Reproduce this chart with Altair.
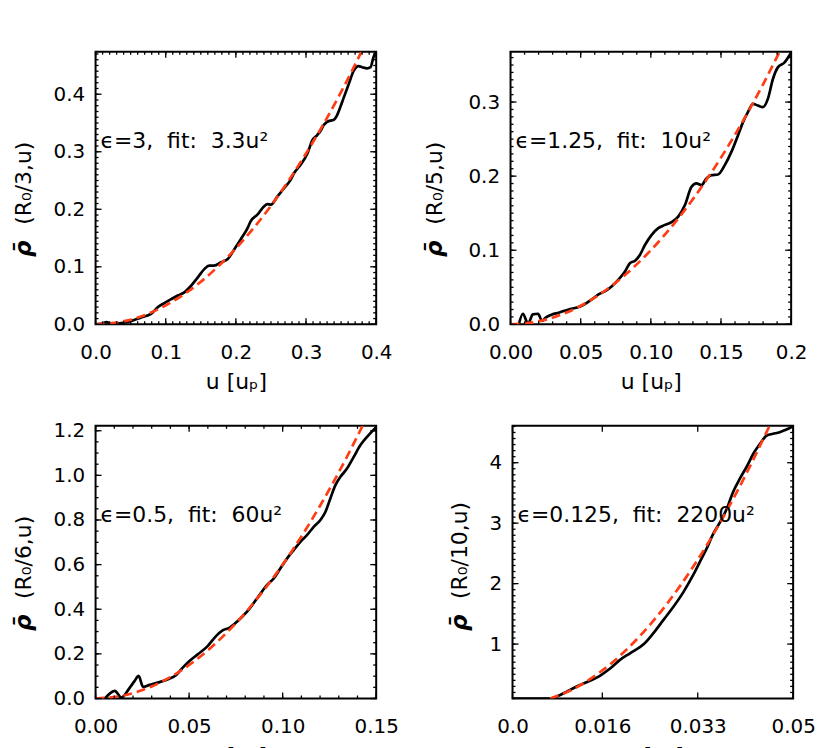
import altair as alt
import pandas as pd
import numpy as np

FONT = "DejaVu Sans"
W, H = 282, 274
RED = "#ff3c14"

# ---------------- data ----------------
# Panel 1: eps=3
u1 = [0, 0.0085, 0.0156, 0.0227, 0.046, 0.065, 0.079, 0.089, 0.098, 0.108,
      0.117, 0.127, 0.136, 0.146, 0.155, 0.162, 0.169, 0.179, 0.188, 0.198,
      0.207, 0.217, 0.221, 0.231, 0.240, 0.245, 0.250, 0.259, 0.269, 0.278,
      0.283, 0.292, 0.302, 0.309, 0.316, 0.321, 0.325, 0.330, 0.340, 0.344,
      0.349, 0.354, 0.361, 0.368, 0.375, 0.380, 0.387, 0.392, 0.396, 0.400]
r1 = [0, 0.001, 0.004, 0.001, 0.004, 0.012, 0.018, 0.030, 0.037, 0.044,
      0.050, 0.056, 0.067, 0.082, 0.096, 0.102, 0.102, 0.108, 0.113, 0.131,
      0.148, 0.168, 0.179, 0.191, 0.205, 0.209, 0.208, 0.222, 0.237, 0.251,
      0.263, 0.277, 0.297, 0.320, 0.329, 0.337, 0.346, 0.352, 0.356, 0.363,
      0.378, 0.395, 0.418, 0.441, 0.449, 0.447, 0.445, 0.447, 0.464, 0.474]
fit_u1 = [0, 0.05, 0.1, 0.15, 0.2, 0.25, 0.3, 0.35, 0.379]
fit_r1 = [0, 0.008, 0.033, 0.074, 0.132, 0.206, 0.297, 0.404, 0.474]

# Panel 2: eps=1.25
u2 = [0.0059, 0.0088, 0.0125, 0.0159, 0.0196, 0.0225, 0.0249, 0.0296, 0.0343, 0.0414,
      0.0485, 0.0533, 0.058, 0.0627, 0.0675, 0.0722, 0.0769, 0.0817, 0.0852, 0.0888,
      0.0923, 0.0959, 0.1006, 0.1053, 0.1101, 0.1148, 0.1195, 0.1243, 0.129, 0.1325,
      0.1361, 0.1396, 0.1432, 0.1479, 0.1527, 0.1574, 0.1621, 0.1657, 0.1692, 0.1728,
      0.1763, 0.1799, 0.1834, 0.187, 0.1905, 0.1953, 0.2]
r2 = [0, 0.0143, 0.0009, 0.0134, 0.0143, 0.0045, 0.0089, 0.0134, 0.0157, 0.0201,
      0.0233, 0.0277, 0.0336, 0.0403, 0.0447, 0.0515, 0.0604, 0.0716, 0.0828, 0.0859,
      0.094, 0.1074, 0.1208, 0.1298, 0.1342, 0.1378, 0.1454, 0.1611, 0.1857, 0.1902,
      0.1879, 0.1969, 0.2013, 0.2022, 0.2148, 0.2327, 0.255, 0.2729, 0.2864, 0.2975,
      0.2953, 0.2931, 0.3043, 0.3311, 0.3468, 0.3535, 0.3669]
fit_u2 = [0, 0.02, 0.04, 0.06, 0.08, 0.10, 0.12, 0.14, 0.16, 0.18, 0.1918]
fit_r2 = [0, 0.004, 0.016, 0.036, 0.064, 0.100, 0.144, 0.196, 0.256, 0.324, 0.368]

# Panel 3: eps=0.5
u3 = [0.005, 0.0103, 0.0138, 0.0183, 0.0209, 0.023, 0.0254, 0.0289, 0.0333, 0.0387,
      0.0431, 0.0466, 0.0502, 0.0546, 0.0599, 0.0644, 0.0679, 0.0715, 0.0759, 0.0812,
      0.0865, 0.0918, 0.0954, 0.0989, 0.1025, 0.106, 0.1096, 0.1131, 0.1167, 0.1202,
      0.1229, 0.1255, 0.1282, 0.1309, 0.1344, 0.138, 0.1415, 0.145, 0.15]
r3 = [0, 0.034, 0.0045, 0.049, 0.0788, 0.1011, 0.052, 0.061, 0.0714, 0.0862,
      0.1056, 0.1383, 0.168, 0.1978, 0.2349, 0.2796, 0.3048, 0.3167, 0.3465, 0.3911,
      0.4506, 0.51, 0.5398, 0.5844, 0.629, 0.6662, 0.7033, 0.7331, 0.7703, 0.80,
      0.8372, 0.8967, 0.9561, 0.9933, 1.0305, 1.0825, 1.1346, 1.1717, 1.2164]
fit_u3 = [0, 0.015, 0.03, 0.045, 0.06, 0.075, 0.09, 0.105, 0.12, 0.135, 0.1427]
fit_r3 = [0, 0.0135, 0.054, 0.1215, 0.216, 0.3375, 0.486, 0.6615, 0.864, 1.0935, 1.222]

# Panel 4: eps=0.125
u4 = [0, 0.0068, 0.008, 0.0098, 0.0115, 0.0133, 0.0157, 0.0175, 0.0192, 0.021,
      0.0234, 0.0251, 0.0269, 0.0287, 0.0305, 0.0322, 0.0334, 0.0346, 0.0358, 0.037,
      0.0382, 0.0393, 0.0405, 0.0417, 0.0429, 0.0441, 0.0453, 0.0464, 0.0476, 0.0488, 0.05]
r4 = [0.1, 0.1, 0.137, 0.22, 0.302, 0.374, 0.484, 0.604, 0.742, 0.852,
      1.0, 1.181, 1.401, 1.621, 1.868, 2.143, 2.363, 2.582, 2.83, 3.022,
      3.242, 3.516, 3.736, 3.929, 4.148, 4.313, 4.451, 4.478, 4.505, 4.549, 4.604]
fit_u4 = [0.0067, 0.01, 0.015, 0.02, 0.025, 0.03, 0.035, 0.04, 0.045, 0.0458]
fit_r4 = [0.1, 0.22, 0.495, 0.88, 1.375, 1.98, 2.695, 3.52, 4.455, 4.61]

# axes: domains, tick values, tick labels
x_dom = [[0, 0.4], [0, 0.2], [0, 0.15], [0, 0.05]]
y_dom = [[0, 0.474], [0, 0.368], [0, 1.222], [0.1, 4.61]]
x_ticks = [[0, 0.1, 0.2, 0.3, 0.4], [0, 0.05, 0.1, 0.15, 0.2],
           [0, 0.05, 0.1, 0.15], [0, 0.016, 0.033, 0.05]]
x_labels = [["0.0", "0.1", "0.2", "0.3", "0.4"], ["0.00", "0.05", "0.10", "0.15", "0.2"],
            ["0.00", "0.05", "0.10", "0.15"], ["0.0", "0.016", "0.033", "0.05"]]
x_minor = [0.01, 0.01, 0.01, None]
y_ticks = [[0, 0.1, 0.2, 0.3, 0.4], [0, 0.1, 0.2, 0.3],
           [0, 0.2, 0.4, 0.6, 0.8, 1.0, 1.2], [1, 2, 3, 4]]
y_labels = [["0.0", "0.1", "0.2", "0.3", "0.4"], ["0.0", "0.1", "0.2", "0.3"],
            ["0.0", "0.2", "0.4", "0.6", "0.8", "1.0", "1.2"], ["1", "2", "3", "4"]]
y_minor = [0.01, 0.01, 0.05, 0.1]
y_title = ["(R₀/3,u)", "(R₀/5,u)", "(R₀/6,u)", "(R₀/10,u)"]
notes = ["ϵ=3, \u00a0fit: \u00a03.3u²", "ϵ=1.25, \u00a0fit: \u00a010u²",
         "ϵ=0.5, \u00a0fit: \u00a060u²", "ϵ=0.125, \u00a0fit: \u00a02200u²"]
title_dx = [-72, -76, -72, -53]
x_title = "u [uₚ]"

MAJ, MIN = 6, 3


def lab_expr(vals, labs):
    s = "".join(f"abs(datum.value - {v}) < 0.000001 ? '{l}' : " for v, l in zip(vals, labs))
    return s + "''"


def minor_vals(dom, step):
    if step is None:
        return []
    n0 = int(np.ceil(dom[0] / step - 1e-9))
    n1 = int(np.floor(dom[1] / step + 1e-9))
    return [round(k * step, 6) for k in range(n0, n1 + 1)]


def panel(i, u, r, fu, fr):
    xs = alt.Scale(domain=x_dom[i], nice=False, zero=False)
    ys = alt.Scale(domain=y_dom[i], nice=False, zero=False)
    xaxis = alt.Axis(values=x_ticks[i], labelExpr=lab_expr(x_ticks[i], x_labels[i]),
                     title=x_title, labelPadding=18, titlePadding=9,
                     labelFlush=False, labelOverlap=False)
    yaxis = alt.Axis(values=y_ticks[i], labelExpr=lab_expr(y_ticks[i], y_labels[i]),
                     title="", labelPadding=11, labelFlush=False, labelOverlap=False)
    X = lambda f: alt.X(f, scale=xs, axis=xaxis, title=x_title)
    Y = lambda f: alt.Y(f, scale=ys, axis=yaxis, title="")
    data = pd.DataFrame({"u": u, "r": r})
    fit = pd.DataFrame({"u": fu, "r": fr})

    line = alt.Chart(data).mark_line(color="black", strokeWidth=2.7, clip=True,
                                     interpolate="monotone").encode(x=X("u:Q"), y=Y("r:Q"))
    dashed = alt.Chart(fit).mark_line(color=RED, strokeWidth=2.7, strokeDash=[9, 5],
                                      clip=True, interpolate="monotone").encode(
        x=X("u:Q"), y=Y("r:Q"))

    layers = [line, dashed]
    xm = pd.DataFrame({"u": x_ticks[i]})
    xn = pd.DataFrame({"u": minor_vals(x_dom[i], x_minor[i])})
    ym = pd.DataFrame({"r": y_ticks[i]})
    yn = pd.DataFrame({"r": minor_vals(y_dom[i], y_minor[i])})
    for df, L in ((xm, MAJ), (xn, MIN)):
        if len(df) == 0:
            continue
        for y0, y1 in ((H, H - L), (0, L)):
            layers.append(alt.Chart(df).mark_rule(color="black", strokeWidth=1.3).encode(
                x=X("u:Q"), y=alt.value(y0), y2=alt.value(y1)))
    for df, L in ((ym, MAJ), (yn, MIN)):
        for x0, x1 in ((0, L), (W, W - L)):
            layers.append(alt.Chart(df).mark_rule(color="black", strokeWidth=1.3).encode(
                y=Y("r:Q"), x=alt.value(x0), x2=alt.value(x1)))

    note = alt.Chart(pd.DataFrame({"t": [notes[i]]})).mark_text(
        align="left", baseline="middle", font=FONT, fontSize=22, color="black").encode(
        x=alt.value(5), y=alt.value(90), text="t:N")
    rho = alt.Chart(pd.DataFrame({"t": ["ρ̄"]})).mark_text(
        align="center", baseline="middle", angle=270, font=FONT, fontSize=23,
        fontWeight="bold", fontStyle="italic", color="black").encode(
        x=alt.value(title_dx[i]), y=alt.value(198), text="t:N")
    rest = alt.Chart(pd.DataFrame({"t": [y_title[i]]})).mark_text(
        align="left", baseline="middle", angle=270, font=FONT, fontSize=22,
        color="black").encode(
        x=alt.value(title_dx[i]), y=alt.value(174), text="t:N")
    layers += [note, rho, rest]
    return alt.layer(*layers).properties(width=W, height=H)


p1 = panel(0, u1, r1, fit_u1, fit_r1)
p2 = panel(1, u2, r2, fit_u2, fit_r2)
p3 = panel(2, u3, r3, fit_u3, fit_r3)
p4 = panel(3, u4, r4, fit_u4, fit_r4)

top = alt.hconcat(p1, p2, spacing=30)
bottom = alt.hconcat(p3, p4, spacing=48)
chart = alt.vconcat(top, bottom, spacing=26).properties(
    padding={"left": 4, "top": 40, "right": 5, "bottom": 5},
    background="white",
).configure_view(stroke="black", strokeWidth=2).configure_axis(
    domain=False, grid=False, ticks=False, tickSize=0,
    labelFont=FONT, labelFontSize=20, labelColor="black",
    titleFont=FONT, titleFontSize=22, titleColor="black", titleFontWeight="normal",
)

chart.save("out.html", embed_options={"renderer": "svg", "actions": False})
